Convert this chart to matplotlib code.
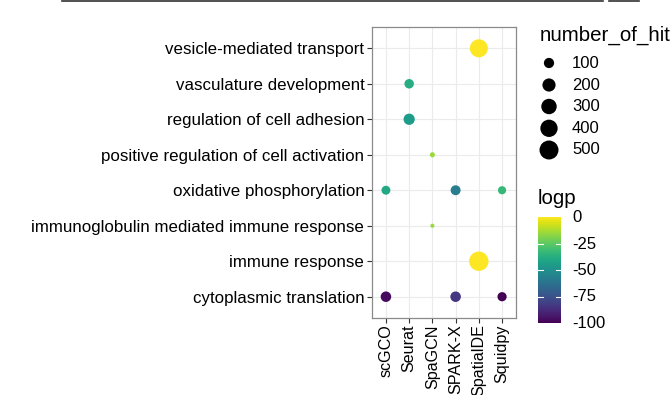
import numpy as np
import matplotlib
matplotlib.use("Agg")
import matplotlib.pyplot as plt
from matplotlib import colors
from matplotlib.lines import Line2D

plt.rcParams['font.family'] = ['Liberation Sans', 'DejaVu Sans']

methods = ["scGCO", "Seurat", "SpaGCN", "SPARK-X", "SpatialDE", "Squidpy"]
terms = ["cytoplasmic translation", "immune response",
         "immunoglobulin mediated immune response", "oxidative phosphorylation",
         "positive regulation of cell activation", "regulation of cell adhesion",
         "vasculature development", "vesicle-mediated transport"]

# data points: (method, term, number_of_hit, logp)
pt_method = ["SpatialDE", "Seurat", "Seurat", "SpaGCN",
             "scGCO", "SPARK-X", "Squidpy", "SpaGCN", "SpatialDE",
             "scGCO", "SPARK-X", "Squidpy"]
pt_term = ["vesicle-mediated transport", "vasculature development",
           "regulation of cell adhesion", "positive regulation of cell activation",
           "oxidative phosphorylation", "oxidative phosphorylation", "oxidative phosphorylation",
           "immunoglobulin mediated immune response", "immune response",
           "cytoplasmic translation", "cytoplasmic translation", "cytoplasmic translation"]
pt_hits = [444, 81, 131, 11, 67, 92, 52, 6, 527, 109, 109, 74]
pt_logp = [0, -38, -45, -15, -40, -58, -33, -15, 0, -97, -84, -100]

size_breaks = [100, 200, 300, 400, 500]
logp_ticks = [0, -25, -50, -75, -100]

W, H, DPI = 672, 395, 100
fig = plt.figure(figsize=(W / DPI, H / DPI), dpi=DPI)

vmin_hits = min(pt_hits) - 1
def diam_px(v):
    return 3.4 + 0.70 * np.sqrt(np.maximum(np.asarray(v, float) - vmin_hits, 0))

def s_pts(v):
    return (diam_px(v) * 72.0 / DPI) ** 2

def fx(px):
    return px / W

def fy(py):
    return 1 - py / H

ax = fig.add_axes([fx(372), fy(318), fx(516) - fx(372), fy(27) - fy(318)])
cmap = plt.get_cmap('viridis')
norm = colors.Normalize(vmin=-100, vmax=0)

xi = [methods.index(m) for m in pt_method]
yi = [terms.index(t) for t in pt_term]
ax.scatter(xi, yi, s=s_pts(pt_hits), c=pt_logp, cmap=cmap, norm=norm,
           linewidths=0, zorder=3)
ax.set_xlim(-0.6, len(methods) - 0.4)
ax.set_ylim(-0.6, len(terms) - 0.4)
ax.set_xticks(range(len(methods)))
ax.set_xticklabels(methods, rotation=90, fontsize=11.6, color='black')
ax.set_yticks(range(len(terms)))
ax.set_yticklabels(terms, fontsize=12.2, color='black')
ax.grid(True, color='#ebebeb', lw=0.8, zorder=0)
ax.set_axisbelow(True)
for sp in ax.spines.values():
    sp.set_color('#8a8a8a')
    sp.set_linewidth(0.9)
ax.tick_params(axis='both', length=3.5, width=0.8, color='#333333', pad=2)
ax.tick_params(axis='x', pad=1.2)

# size legend
fig.text(fx(540), fy(35), "number_of_hit", fontsize=14.8, va='center', ha='left')
lax = fig.add_axes([0, 0, 1, 1], facecolor='none')
lax.set_xlim(0, W)
lax.set_ylim(H, 0)
lax.axis('off')
leg_y = [63, 85, 106.5, 128.3, 150]
lax.scatter([549] * len(size_breaks), leg_y, s=s_pts(size_breaks), color='black', linewidths=0)
for yy, b in zip(leg_y, size_breaks):
    lax.text(572, yy, str(b), fontsize=12, va='center', ha='left')

# top line artifacts
lax.add_line(Line2D([62, 603], [0.8, 0.8], color='#333333', lw=1.2))
lax.add_line(Line2D([609, 639], [0.8, 0.8], color='#333333', lw=1.2))

# colorbar
fig.text(fx(538), fy(198), "logp", fontsize=14.8, va='center', ha='left')
cax = fig.add_axes([fx(538), fy(323), fx(561) - fx(538), fy(217) - fy(323)])
grad = np.linspace(-100, 0, 256).reshape(-1, 1)
cax.imshow(grad, aspect='auto', cmap=cmap, norm=norm, origin='lower',
           extent=[0, 1, -100, 0])
cax.set_xlim(0, 1)
cax.set_ylim(-100, 0)
cax.set_xticks([])
cax.set_yticks([])
for sp in cax.spines.values():
    sp.set_visible(False)
for t in logp_ticks:
    if -100 < t < 0:
        cax.plot([0, 0.2], [t, t], color='white', lw=0.8)
        cax.plot([0.8, 1], [t, t], color='white', lw=0.8)
    lax.text(572, 323 - (t + 100) * 1.05, str(t), fontsize=12, va='center', ha='left')

fig.savefig("out.png", dpi=DPI)
